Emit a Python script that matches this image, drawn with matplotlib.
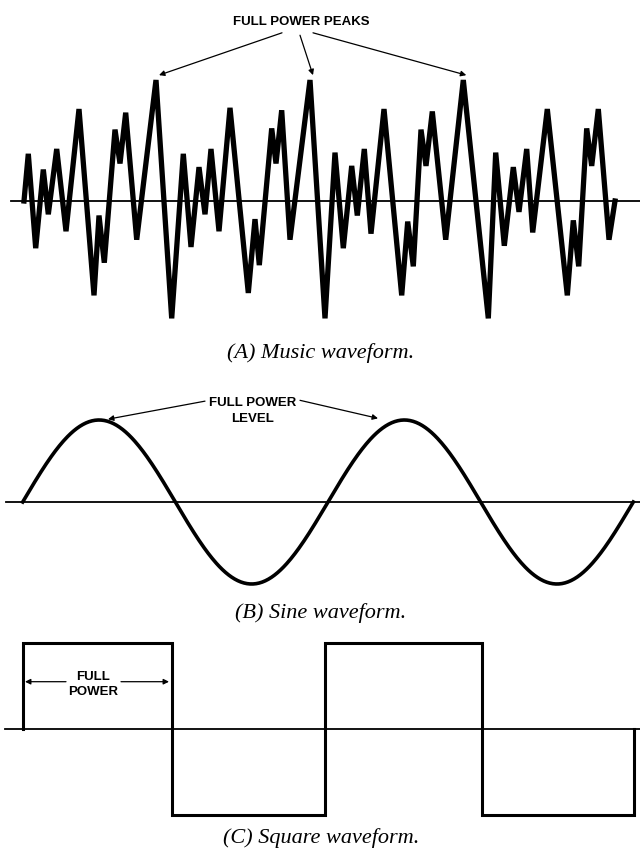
import numpy as np
import matplotlib
matplotlib.use("Agg")
import matplotlib.pyplot as plt

W, H = 640, 850  # figure size in pixels

# (A) music waveform: vertex times and amplitudes (full power peak = 1)
music_t = [24, 28.3, 35.7, 43.3, 48.3, 56.7, 66, 79, 94, 99, 104.3, 115, 120,
           125.7, 136.7, 156, 171.7, 183.3, 191, 199, 205, 211, 219, 230, 248.3,
           255, 259.3, 271.7, 276, 281.7, 290, 310, 325, 335, 343.3, 351.7,
           357.3, 364.3, 371, 384, 401.7, 407.7, 413.3, 421, 426, 432.3, 445.7,
           463.3, 488.3, 495.7, 504.3, 513.3, 519, 526.7, 532.7, 547.3, 567.3,
           573.3, 578.7, 586.7, 591.7, 598.3, 609, 615]
music_a = [0.0, 0.39, -0.39, 0.26, -0.11, 0.43, -0.25, 0.76, -0.78, -0.12,
           -0.51, 0.59, 0.31, 0.73, -0.32, 1.0, -0.97, 0.39, -0.38, 0.28, -0.11,
           0.43, -0.25, 0.77, -0.76, -0.15, -0.53, 0.60, 0.31, 0.75, -0.32, 1.0,
           -0.97, 0.40, -0.39, 0.29, -0.12, 0.43, -0.27, 0.76, -0.78, -0.17,
           -0.54, 0.59, 0.29, 0.74, -0.32, 1.0, -0.97, 0.40, -0.37, 0.28, -0.09,
           0.43, -0.26, 0.76, -0.78, -0.16, -0.54, 0.60, 0.29, 0.76, -0.32, 0.0]

# (B) sine waveform: start, end, number of cycles
sine_start, sine_end, sine_cycles = 22.7, 633.3, 2

# (C) square waveform: switching times and levels between them
square_edges = [23, 172, 325, 482, 634]
square_levels = [1, -1, 1, -1]

captions = ["(A) Music waveform.", "(B) Sine waveform.", "(C) Square waveform."]

LABEL_FONT = dict(family=["Liberation Sans", "DejaVu Sans"],
                  fontweight="bold", fontsize=9.5)
CAP_FONT = dict(family=["Liberation Serif", "DejaVu Serif"], style="italic",
                fontsize=16)
ARROW = dict(arrowstyle="-|>", lw=0.9, color="black", mutation_scale=8,
             shrinkA=0, shrinkB=0)


def panel(fig, top_px, bot_px, zero_px, unit_px):
    # axes spanning the whole width, y in amplitude units
    ax = fig.add_axes([0, 1 - bot_px / H, 1, (bot_px - top_px) / H])
    ax.set_xlim(0, W)
    ax.set_ylim((zero_px - bot_px) / unit_px, (zero_px - top_px) / unit_px)
    ax.axis("off")
    return ax


fig = plt.figure(figsize=(W / 100, H / 100), dpi=100)

# ---- (A) music
ax1 = panel(fig, 0, 335, 201, 121)
ax1.plot([11, W], [0, 0], color="black", lw=1.3)
ax1.plot(music_t, music_a, color="black", lw=3.8, solid_joinstyle="miter")
ax1.text(301, 1.48, "FULL POWER PEAKS", ha="center", va="center", **LABEL_FONT)
peaks = [t for t, a in zip(music_t, music_a) if a >= 0.99]
for tail, tip in zip([(282, 1.39), (300, 1.37), (313, 1.39)], peaks):
    ax1.annotate("", xy=(tip + 3, 1.04), xytext=tail, arrowprops=ARROW)

# ---- (B) sine
ax2 = panel(fig, 335, 600, 502, 82)
ax2.plot([6, W], [0, 0], color="black", lw=1.3)
t = np.linspace(sine_start, sine_end, 600)
ax2.plot(t, np.sin(2 * np.pi * sine_cycles * (t - sine_start) / (sine_end - sine_start)),
         color="black", lw=2.6)
ax2.text(253, 1.11, "FULL POWER\nLEVEL", ha="center", va="center",
         linespacing=1.35, **LABEL_FONT)
ax2.annotate("", xy=(108, 1.01), xytext=(205, 1.23), arrowprops=ARROW)
ax2.annotate("", xy=(378, 1.02), xytext=(300, 1.24), arrowprops=ARROW)

# ---- (C) square
ax3 = panel(fig, 600, 850, 729, 86)
ax3.plot([5, W], [0, 0], color="black", lw=1.3)
sx = np.repeat(square_edges, 2)
sy = np.concatenate([[0], np.repeat(square_levels, 2), [0]])
ax3.plot(sx, sy, color="black", lw=2.2, solid_joinstyle="miter")
ax3.text(93, 0.52, "FULL\nPOWER", ha="center", va="center",
         linespacing=1.35, **LABEL_FONT)
ax3.annotate("", xy=(square_edges[0] + 2, 0.55), xytext=(66, 0.55), arrowprops=ARROW)
ax3.annotate("", xy=(square_edges[1] - 3, 0.55), xytext=(121, 0.55), arrowprops=ARROW)

# captions
for y_px, cap in zip([353, 613, 838], captions):
    fig.text(321 / W, 1 - y_px / H, cap, ha="center", va="center", **CAP_FONT)

fig.savefig("out.png", dpi=100, facecolor="white")
